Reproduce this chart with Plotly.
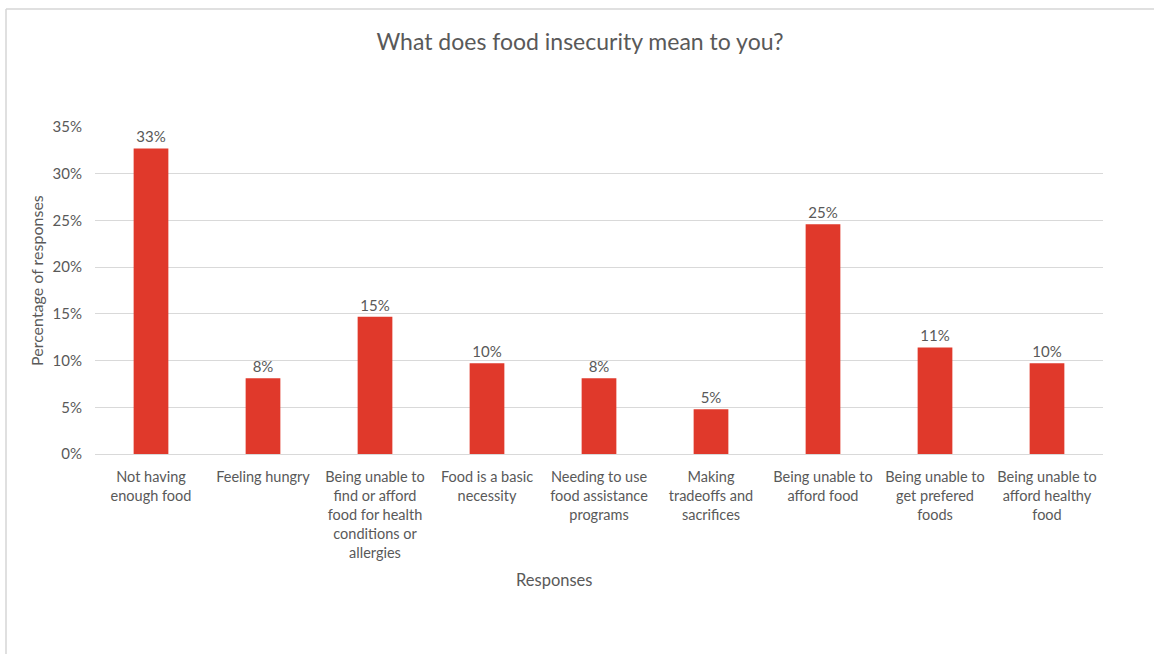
import plotly.graph_objects as go

# Survey responses: "What does food insecurity mean to you?"
categories = [
    "Not having<br>enough food",
    "Feeling hungry",
    "Being unable to<br>find or afford<br>food for health<br>conditions or<br>allergies",
    "Food is a basic<br>necessity",
    "Needing to use<br>food assistance<br>programs",
    "Making<br>tradeoffs and<br>sacrifices",
    "Being unable to<br>afford food",
    "Being unable to<br>get prefered<br>foods",
    "Being unable to<br>afford healthy<br>food",
]
shares = [0.327, 0.081, 0.147, 0.097, 0.081, 0.048, 0.246, 0.114, 0.097]
y_ticks = [0, 0.05, 0.10, 0.15, 0.20, 0.25, 0.30, 0.35]

TEXT = "#595959"
GRID = "#d9d9d9"
FONT = "Lato, 'Open Sans', sans-serif"

fig = go.Figure(
    go.Bar(
        x=list(range(len(categories))),
        y=shares,
        marker=dict(color="#E0392B", line=dict(width=0)),
        width=0.31,
        texttemplate="%{y:.0%}",
        textposition="outside",
        textfont=dict(family=FONT, size=15, color=TEXT),
        cliponaxis=False,
    )
)

# Plot area geometry (margins in px) used for frame lines and axis titles
L, R, T, B = 95, 51, 127, 200
W, H = 1154, 654
pw, ph = W - L - R, H - T - B

def px_x(v):
    return (v - L) / pw

def px_y(v):
    return (H - B - v) / ph

frame = dict(color="#d6d6d6", width=1.5)
fig.add_shape(type="line", xref="paper", yref="paper",
              x0=px_x(6), x1=px_x(W + 5), y0=px_y(9), y1=px_y(9), line=frame)
fig.add_shape(type="line", xref="paper", yref="paper",
              x0=px_x(6), x1=px_x(6), y0=px_y(9), y1=px_y(H + 5), line=frame)

# Axis titles
fig.add_annotation(text="Responses", xref="paper", yref="paper",
                   x=px_x(554), y=px_y(580), xanchor="center", yanchor="middle",
                   showarrow=False, font=dict(family=FONT, size=16.5, color=TEXT))
fig.add_annotation(text="Percentage of responses", xref="paper", yref="paper",
                   x=px_x(36), y=px_y(281), xanchor="center", yanchor="middle",
                   textangle=-90, showarrow=False,
                   font=dict(family=FONT, size=16, color=TEXT))

fig.update_layout(
    width=W,
    height=H,
    margin=dict(l=L, r=R, t=T, b=B),
    paper_bgcolor="white",
    plot_bgcolor="white",
    showlegend=False,
    bargap=0.69,
    font=dict(family=FONT, color=TEXT, size=14.5),
    title=dict(
        text="What does food insecurity mean to you?",
        x=580 / W,
        xanchor="center",
        y=1 - 42 / H,
        yanchor="middle",
        font=dict(family=FONT, size=23, color=TEXT),
    ),
    xaxis=dict(
        tickmode="array",
        tickvals=list(range(len(categories))),
        ticktext=categories,
        range=[-0.5, len(categories) - 0.5],
        showgrid=False,
        showline=True,
        linecolor=GRID,
        linewidth=1,
        ticks="",
        ticklabelstandoff=10,
        tickfont=dict(family=FONT, size=14.5, color=TEXT),
        fixedrange=True,
    ),
    yaxis=dict(
        range=[0, 0.35],
        tickvals=y_ticks,
        tickformat=".0%",
        showgrid=True,
        gridcolor=GRID,
        gridwidth=1,
        zeroline=False,
        showline=False,
        ticks="",
        ticklabelstandoff=12,
        tickfont=dict(family=FONT, size=15, color=TEXT),
        fixedrange=True,
    ),
)

fig.write_html("out.html")
